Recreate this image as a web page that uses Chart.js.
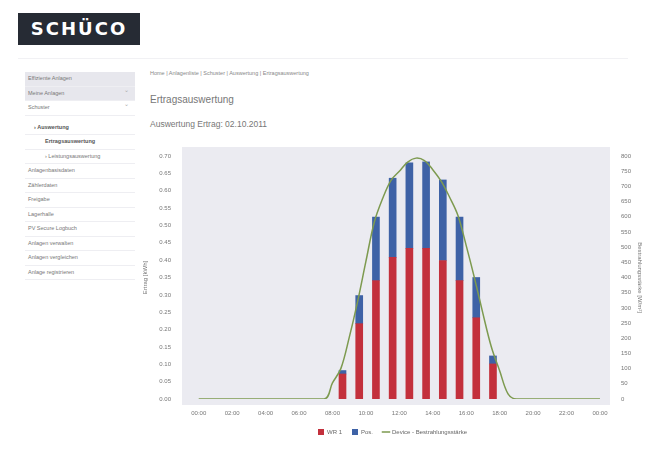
<!DOCTYPE html>
<html>
<head>
<meta charset="utf-8">
<script src="https://cdn.jsdelivr.net/npm/chart.js@4.4.1/dist/chart.umd.min.js"></script>
<style>
    body { margin: 0; width: 645px; height: 468px; background: #fff; position: relative; overflow: hidden;
           font-family: "Liberation Sans", Arial, sans-serif; color: #666; }
    .logo { position: absolute; left: 18px; top: 13px; width: 122px; height: 32px; background: #262b34;
            color: #fff; font: bold 18px "DejaVu Sans", sans-serif; letter-spacing: 2px; line-height: 32px; text-align: center; }
    .topline { position: absolute; left: 18px; top: 58px; width: 610px; height: 1px; background: #f1f1f4; }
    .nav { position: absolute; left: 25px; top: 72px; width: 110px; }
    .nav div { height: 13.5px; line-height: 13.5px; font-size: 5.5px; padding-left: 3px; border-bottom: 1px solid #eeeef2; color: #777; position: relative; }
    .nav .grey { background: #e7e7ed; }
    .nav .chev:after { content: "\2304"; position: absolute; right: 6px; top: -3px; font-size: 6px; color: #aaa; }
    .nav .l1 { padding-left: 9px; color: #555; font-weight: bold; margin-top: 5px; }
    .nav .l2 { padding-left: 20px; }
    .nav .b { font-weight: bold; color: #555; }
    .crumb { position: absolute; left: 150px; top: 70px; font-size: 5.5px; color: #888; }
    h1 { position: absolute; left: 150px; top: 94px; margin: 0; font-size: 10px; font-weight: normal; color: #777; }
    h2 { position: absolute; left: 150px; top: 119px; margin: 0; font-size: 8.5px; font-weight: normal; color: #777; }
    .chartbox { position: absolute; left: 140px; top: 140px; width: 505px; height: 305px; }
</style>
</head>
<body>
<div class="logo">SCHÜCO</div>
<div class="topline"></div>
<div class="nav">
    <div class="grey">Effiziente Anlagen</div>
    <div class="grey chev">Meine Anlagen</div>
    <div class="chev">Schuster</div>
    <div class="l1">› Auswertung</div>
    <div class="l2 b">Ertragsauswertung</div>
    <div class="l2">› Leistungsauswertung</div>
    <div>Anlagenbasisdaten</div>
    <div>Zählerdaten</div>
    <div>Freigabe</div>
    <div>Lagerhalle</div>
    <div>PV Secure Logbuch</div>
    <div>Anlagen verwalten</div>
    <div>Anlagen vergleichen</div>
    <div>Anlage registrieren</div>
</div>
<div class="crumb">Home | Anlagenliste | Schuster | Auswertung | Ertragsauswertung</div>
<h1>Ertragsauswertung</h1>
<h2>Auswertung Ertrag: 02.10.2011</h2>
<div class="chartbox"><canvas id="yieldChart"></canvas></div>

<script>
// Tick labels on the time axis (hours of the day)
const hourTicks = [0, 2, 4, 6, 8, 10, 12, 14, 16, 18, 20, 22, 24];

// Hourly yield bars (position in hours)
const barHours = [8.6, 9.6, 10.6, 11.6, 12.6, 13.6, 14.6, 15.6, 16.6, 17.6];
const wr1Values = [0.072, 0.217, 0.341, 0.408, 0.434, 0.434, 0.399, 0.341, 0.234, 0.101];
const posValues = [0.010, 0.081, 0.183, 0.228, 0.246, 0.249, 0.232, 0.183, 0.116, 0.023];

// Irradiance curve (W/m²)
const irrHours = [0, 7.5, 8, 8.5, 9, 9.5, 10, 10.5, 11, 11.5, 12, 12.5, 13, 13.5, 14, 14.5, 15, 15.5, 16, 16.5, 17, 17.5, 18, 18.5, 19, 24];
const irrValues = [0, 0, 53, 100, 202, 320, 453, 582, 660, 720, 750, 780, 793, 785, 755, 717, 665, 605, 505, 397, 281, 172, 93, 17, 0, 0];

const tickFont = { size: 6, family: '"Liberation Sans", Arial, sans-serif' };

// Grey panel behind the plot, a little larger than the chart area
const plotBg = {
    id: 'plotBg',
    beforeDraw(chart) {
        const a = chart.chartArea;
        const ctx = chart.ctx;
        ctx.save();
        ctx.fillStyle = '#ebebf1';
        ctx.fillRect(a.left, a.top - 9, a.right - a.left, a.bottom - a.top + 15);
        ctx.restore();
    }
};

function toPoints(xs, ys) {
    return xs.map((x, i) => ({ x: x, y: ys[i] }));
}

function pad2(n) {
    return String(n).padStart(2, '0');
}

new Chart(document.getElementById('yieldChart'), {
    type: 'bar',
    data: {
        datasets: [
            {
                label: 'WR 1',
                data: toPoints(barHours, wr1Values),
                backgroundColor: '#c3303c',
                barThickness: 7,
                pointStyle: 'rect',
                yAxisID: 'y',
                order: 2
            },
            {
                label: 'Pos.',
                data: toPoints(barHours, posValues),
                backgroundColor: '#3e62a6',
                barThickness: 7,
                pointStyle: 'rect',
                yAxisID: 'y',
                order: 2
            },
            {
                type: 'line',
                label: 'Device - Bestrahlungsstärke',
                data: toPoints(irrHours, irrValues),
                borderColor: '#7d9a4f',
                backgroundColor: '#7d9a4f',
                borderWidth: 1.5,
                pointRadius: 0,
                pointStyle: 'line',
                tension: 0.35,
                yAxisID: 'y1',
                order: 1
            }
        ]
    },
    options: {
        responsive: true,
        maintainAspectRatio: false,
        animation: false,
        layout: { padding: { top: 16, left: 0, right: 0, bottom: 0 } },
        plugins: {
            legend: {
                position: 'bottom',
                labels: {
                    font: tickFont, color: '#666', usePointStyle: true, boxWidth: 6, boxHeight: 6, padding: 10,
                    sort: (a, b) => a.datasetIndex - b.datasetIndex
                }
            },
            tooltip: { enabled: false }
        },
        scales: {
            x: {
                type: 'linear',
                stacked: true,
                min: -1,
                max: 24.6,
                offset: false,
                grid: { display: false },
                border: { display: false },
                afterBuildTicks: (axis) => { axis.ticks = hourTicks.map(v => ({ value: v })); },
                afterFit: (axis) => { axis.height = 20; },
                ticks: {
                    font: tickFont, color: '#777', maxRotation: 0, autoSkip: false,
                    callback: (v) => pad2(v % 24) + ':00'
                }
            },
            y: {
                stacked: true,
                min: 0,
                max: 0.7,
                position: 'left',
                grid: { display: false },
                border: { display: false },
                afterFit: (axis) => { axis.width = 42; },
                ticks: { stepSize: 0.05, font: tickFont, color: '#777', callback: (v) => v.toFixed(2) },
                title: { display: true, text: 'Ertrag [kWh]', font: tickFont, color: '#777', padding: 2 }
            },
            y1: {
                min: 0,
                max: 800,
                position: 'right',
                grid: { display: false },
                border: { display: false },
                afterFit: (axis) => { axis.width = 35; },
                ticks: { stepSize: 50, font: tickFont, color: '#777' },
                title: { display: true, text: 'Bestrahlungsstärke [W/m²]', font: tickFont, color: '#777', padding: 2 }
            }
        }
    },
    plugins: [plotBg]
});
</script>
</body>
</html>
